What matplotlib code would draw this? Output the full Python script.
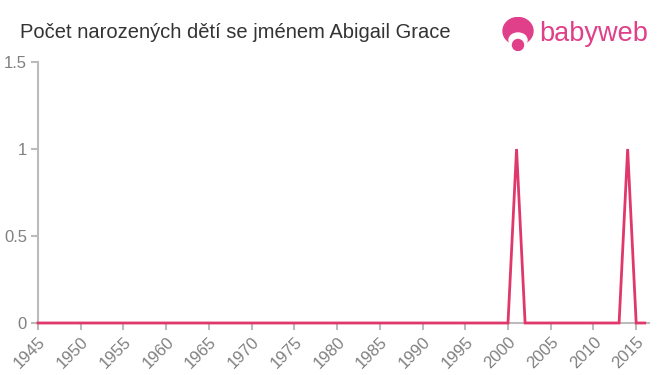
import matplotlib
matplotlib.use("Agg")
import matplotlib.pyplot as plt
from matplotlib.patches import Circle, Ellipse

years = list(range(1945, 2017))
counts = [0] * len(years)
for y in (2001, 2014):
    counts[years.index(y)] = 1

xticks = list(range(1945, 2016, 5))
yticks = [0, 0.5, 1, 1.5]
ytick_labels = ["0", "0.5", "1", "1.5"]

plt.rcParams['font.family'] = ['Liberation Sans', 'DejaVu Sans']

fig = plt.figure(figsize=(6.6, 3.75), dpi=100)
ax = fig.add_axes([38/660, 1-323/375, (649-38)/660, (323-62)/375])

ax.plot(years, counts, color='#e0386b', lw=2, solid_joinstyle='miter', clip_on=False, zorder=5)
ax.set_xlim(1945, 2016.5)
ax.set_ylim(0, 1.5)
ax.set_xticks(xticks)
ax.set_xticklabels([str(x) for x in xticks], rotation=45, ha='right', rotation_mode='anchor')
ax.set_yticks(yticks)
ax.set_yticklabels(ytick_labels)
for s in ('top', 'right'):
    ax.spines[s].set_visible(False)
for s in ('left', 'bottom'):
    ax.spines[s].set_color('#bbbbbb')
    ax.spines[s].set_linewidth(1.5)
ax.tick_params(colors='#bbbbbb', labelcolor='#808080', labelsize=12, length=5, width=1.5, pad=3)

fig.text(20/660, 1-32/375, "Počet narozených dětí se jménem Abigail Grace",
         fontsize=14.5, color='#333333', va='center', ha='left')

# logo
lax = fig.add_axes([502/660, 1-51/375, 32/660, 34/375])
lax.set_xlim(0, 32); lax.set_ylim(0, 34); lax.axis('off')
pink = '#e0408a'
lax.add_patch(Ellipse((16, 20), 30, 27, color=pink))
lax.add_patch(Ellipse((16, 11), 18, 14, color='white'))
lax.add_patch(Circle((16, 6), 5.5, color=pink))
fig.text(539/660, 1-34/375, "babyweb", fontsize=19.5, color=pink, va='center', ha='left')

fig.savefig("out.png", dpi=100)
